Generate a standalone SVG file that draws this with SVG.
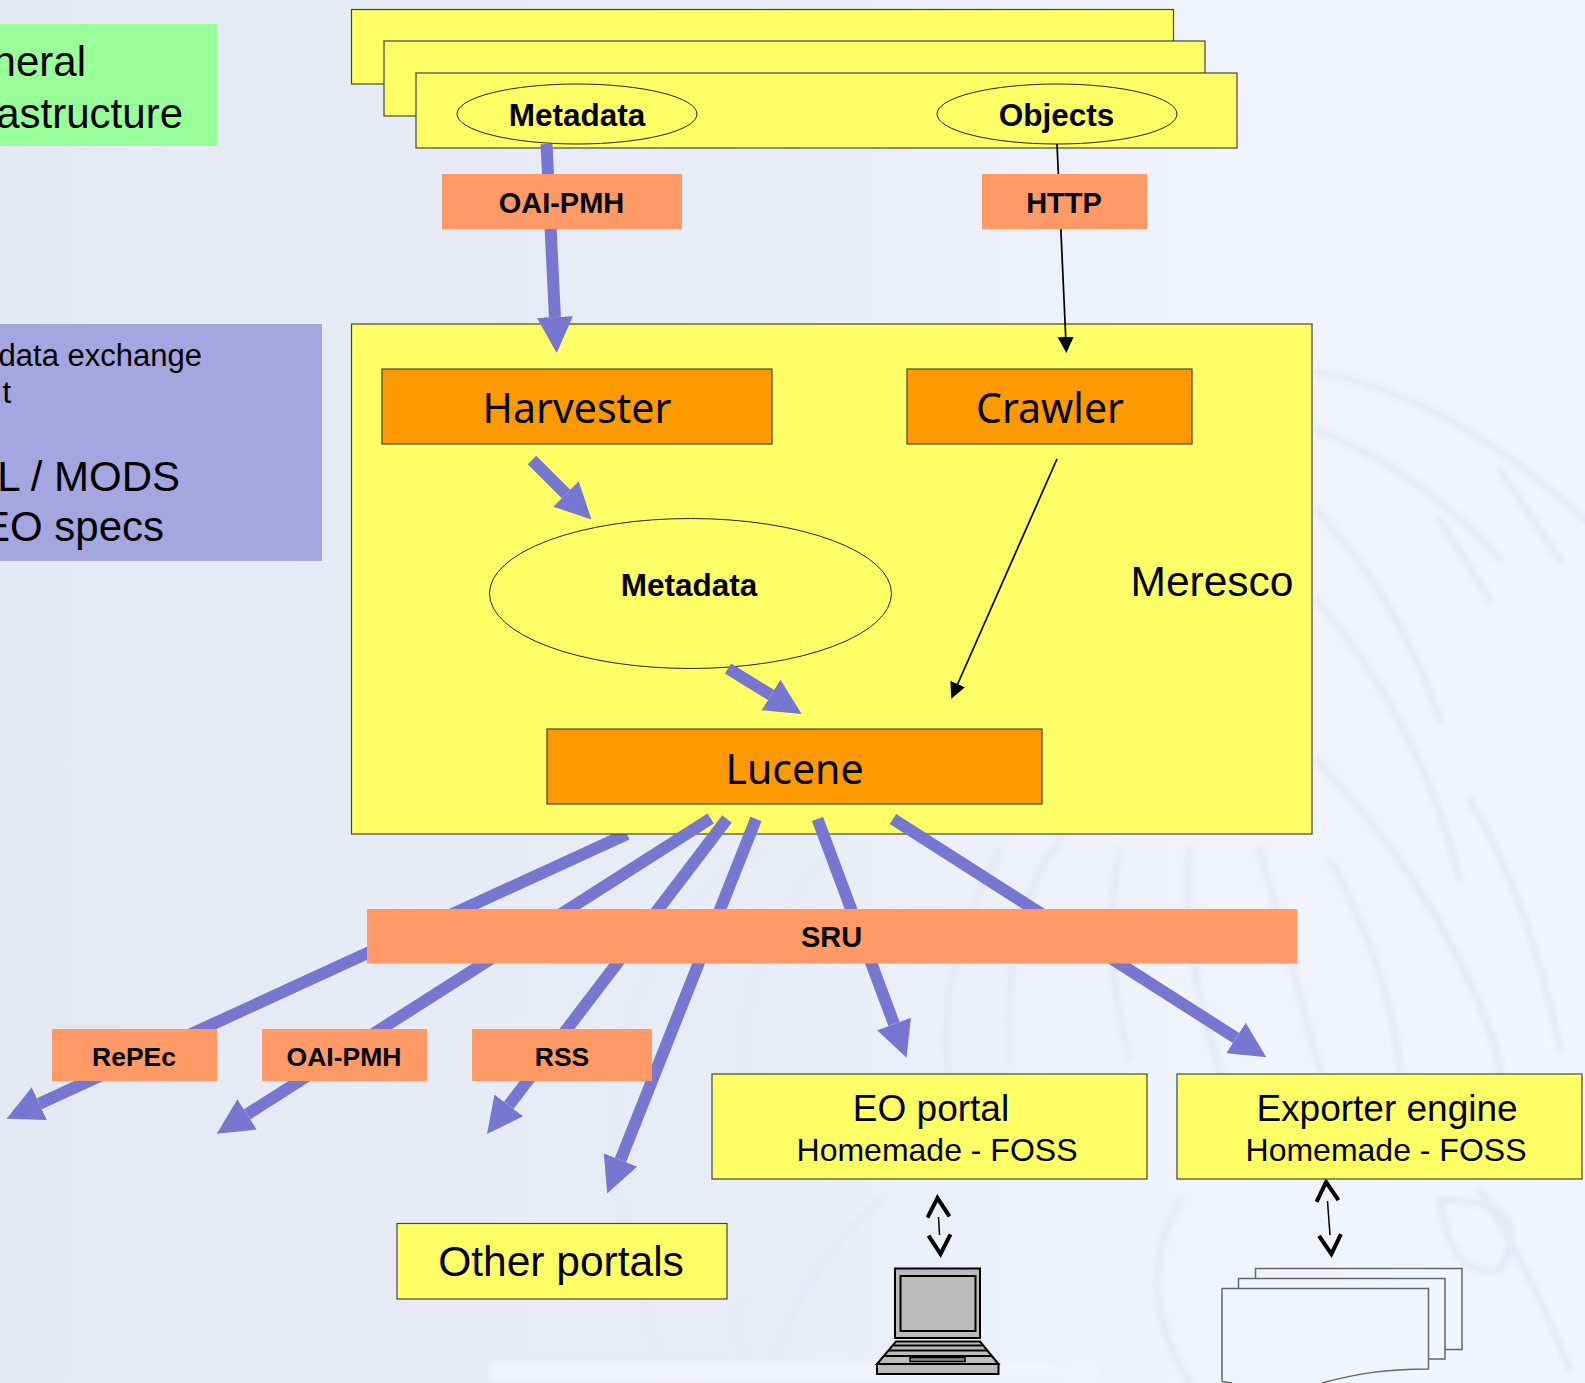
<svg xmlns="http://www.w3.org/2000/svg" width="1585" height="1383" viewBox="0 0 1585 1383">
<defs>
<linearGradient id="bg" x1="0" y1="0" x2="1" y2="0"><stop offset="0" stop-color="#e5e9f4"/><stop offset="0.45" stop-color="#e8ecf6"/><stop offset="0.75" stop-color="#f0f3fc"/><stop offset="1" stop-color="#f1f5fe"/></linearGradient>
<filter id="soft" x="-5%" y="-5%" width="110%" height="110%"><feGaussianBlur stdDeviation="2.5"/></filter>
<marker id="big" markerUnits="userSpaceOnUse" markerWidth="36" markerHeight="36" refX="0" refY="18" orient="auto"><path d="M0 0L36 18L0 36Z" fill="#7777d1"/></marker>
<marker id="thin" markerUnits="userSpaceOnUse" markerWidth="16" markerHeight="16" refX="0" refY="8" orient="auto"><path d="M0 0L16 8L0 16Z" fill="#000"/></marker>
<marker id="open" markerUnits="userSpaceOnUse" markerWidth="26" markerHeight="30" refX="2" refY="15" orient="auto-start-reverse"><path d="M2 4L21 15L2 26" fill="none" stroke="#000" stroke-width="4"/></marker>
</defs>
<style>
.y{fill:#ffff66;stroke:#444;stroke-width:1.2}
.o{fill:#ff9900;stroke:#444;stroke-width:1.2}
.s{fill:#ff9966}
.e{fill:#ffff66;stroke:#222;stroke-width:1}
.a{fill:none;stroke:#7777d1;stroke-width:12;marker-end:url(#big)}
.t{fill:none;stroke:#000;stroke-width:1.7;marker-end:url(#thin)}
.d{fill:none;stroke:#000;stroke-width:1.5;marker-start:url(#open);marker-end:url(#open)}
.w{fill:none;stroke:#e6eaf7;stroke-width:8;stroke-linecap:round}
.p{fill:none;stroke:#666;stroke-width:1.5}
.k{stroke:#000;stroke-width:2;fill:#bbb}
text{font-family:"Liberation Sans",Arial,sans-serif;fill:#000;text-anchor:middle}
.b{font-weight:bold}
.r{text-anchor:end}
.h{font-family:"Noto Sans","DejaVu Sans",sans-serif;font-size:41px}
</style>
<rect width="1585" height="1383" fill="url(#bg)"/>
<g id="watermark" filter="url(#soft)">
<path class="w" d="M1316 372Q1450 395 1585 520M1316 430Q1420 470 1500 560M1316 510Q1400 600 1440 720M1316 600Q1420 720 1460 880M1316 760Q1450 900 1500 1060M1500 470L1560 560M1440 520L1490 600M1470 800Q1530 900 1560 1050"/>
<path class="w" d="M760 850Q660 900 620 1050Q600 1180 660 1360M830 850Q740 950 740 1080M1000 850Q930 980 950 1090M1060 840Q1000 920 1010 1060M1120 850Q1100 950 1130 1060M1190 850Q1180 950 1220 1070M1260 850Q1290 960 1320 1070M1330 860Q1390 970 1400 1070M1400 860Q1480 980 1500 1070M1480 1190Q1530 1270 1570 1370M1180 1200Q1130 1290 1190 1383M880 1200Q790 1280 770 1383M740 1300Q730 1340 760 1383M1440 1200Q1540 1200 1500 1270Q1450 1280 1440 1200"/>
<path d="M490 1372H1100" fill="none" stroke="#f2f4fa" stroke-width="20"/>
</g>
<g id="infrastructure"><rect x="0" y="24" width="217" height="122" fill="#99ff99"/><text class="r" x="86" y="76" font-size="42">neral</text><text class="r" x="183" y="128" font-size="42">astructure</text></g>
<g id="exchange"><rect x="0" y="324" width="322" height="237" fill="#a5a5df"/><text class="r" x="202" y="366" font-size="31">data exchange</text><text class="r" x="11" y="403" font-size="31">t</text><text class="r" x="180" y="491" font-size="42">L / MODS</text><text class="r" x="164" y="541" font-size="42">EO specs</text></g>
<g id="connectors-under"><path class="a" d="M627 834L39.300 1103.700"/></g>
<g id="source-stack">
<rect class="y" x="351.500" y="9.500" width="822" height="74.500"/>
<rect class="y" x="384" y="41" width="821" height="75"/>
<rect class="y" x="416" y="73" width="821" height="75"/>
</g>
<g id="source-metadata"><ellipse class="e" cx="577" cy="114" rx="120" ry="30"/><text class="b" x="577" y="125.500" font-size="31.500">Metadata</text></g>
<g id="source-objects"><ellipse class="e" cx="1057" cy="114" rx="120" ry="30"/><text class="b" x="1056.500" y="125.500" font-size="31.500">Objects</text></g>
<g id="meresco"><rect class="y" x="351.500" y="324" width="960.500" height="510"/><text x="1212" y="596" font-size="42.500">Meresco</text></g>
<g id="harvester"><rect class="o" x="382" y="369" width="390" height="75"/><text class="h" x="577" y="423">Harvester</text></g>
<g id="crawler"><rect class="o" x="907" y="369" width="285" height="75"/><text class="h" x="1050" y="423">Crawler</text></g>
<g id="metadata-store"><ellipse class="e" cx="690.500" cy="593.500" rx="201" ry="75"/><text class="b" x="689" y="596" font-size="31.500">Metadata</text></g>
<g id="lucene"><rect class="o" x="547" y="729" width="495" height="75"/><text class="h" x="794.500" y="784">Lucene</text></g>
<g id="connectors">
<path class="a" d="M546.500 144L554.900 317"/>
<path class="t" d="M1057 144L1065.700 337"/>
<path class="a" d="M532 460L566 494"/>
<path class="a" d="M728 668.500L771 695"/>
<path class="t" d="M1057 459L957.700 684"/>
<path class="a" d="M710.700 818.500L247.100 1114.400"/>
<path class="a" d="M727 819L508.800 1105.400"/>
<path class="a" d="M756 819L620.500 1160"/>
<path class="a" d="M817.500 819L894 1024"/>
<path class="a" d="M893 819L1236 1038"/>
<path class="d" d="M938.500 1217L939.500 1235"/>
<path class="d" d="M1327.500 1201L1330 1235"/>
</g>
<g id="oai-pmh-in"><rect class="s" x="442" y="174" width="240" height="55"/><text class="b" x="561.500" y="212.500" font-size="29">OAI-PMH</text></g>
<g id="http"><rect class="s" x="982" y="174" width="165" height="55"/><text class="b" x="1064" y="212.500" font-size="29">HTTP</text></g>
<g id="sru"><rect class="s" x="367" y="909" width="930" height="54.500"/><text class="b" x="831.500" y="947" font-size="29">SRU</text></g>
<g id="repec"><rect class="s" x="52" y="1029" width="165" height="52"/><text class="b" x="134" y="1066" font-size="26.500">RePEc</text></g>
<g id="oai-pmh-out"><rect class="s" x="262" y="1029" width="165" height="52"/><text class="b" x="344" y="1066" font-size="26.500">OAI-PMH</text></g>
<g id="rss"><rect class="s" x="472" y="1029" width="180" height="52"/><text class="b" x="562" y="1066" font-size="26.500">RSS</text></g>
<g id="eo-portal"><rect class="y" x="712" y="1074" width="435" height="105"/><text x="931" y="1121" font-size="37">EO portal</text><text x="937" y="1161" font-size="32">Homemade - FOSS</text></g>
<g id="exporter"><rect class="y" x="1177" y="1074" width="405" height="105"/><text x="1387" y="1121" font-size="37">Exporter engine</text><text x="1386" y="1161" font-size="32">Homemade - FOSS</text></g>
<g id="other-portals"><rect class="y" x="397" y="1223.500" width="330" height="75.500"/><text x="561" y="1276" font-size="42.500">Other portals</text></g>
<g id="laptop">
<rect class="k" x="895" y="1268.500" width="85" height="69.500"/>
<rect class="k" x="900.500" y="1276" width="75" height="55"/>
<path class="k" d="M896 1341.500H980L998.500 1364H877Z"/>
<rect class="k" x="877" y="1364" width="121.500" height="10"/>
<path d="M894 1345.500H982M889 1350.500H988M884 1356H992" stroke="#000" stroke-width="2"/>
<rect x="910" y="1357.500" width="55" height="4" fill="#888" stroke="#000" stroke-width="1.500"/>
</g>
<g id="documents">
<path class="p" d="M1255.500 1278.500V1268.500H1462V1349.500H1445"/>
<path class="p" d="M1238.500 1288V1278.500H1445V1359H1428.500"/>
<path class="p" d="M1222 1381.500V1288.500H1428.500V1369C1385 1369 1355 1374 1322 1383M1222 1381.500L1232 1383"/>
</g>
</svg>
